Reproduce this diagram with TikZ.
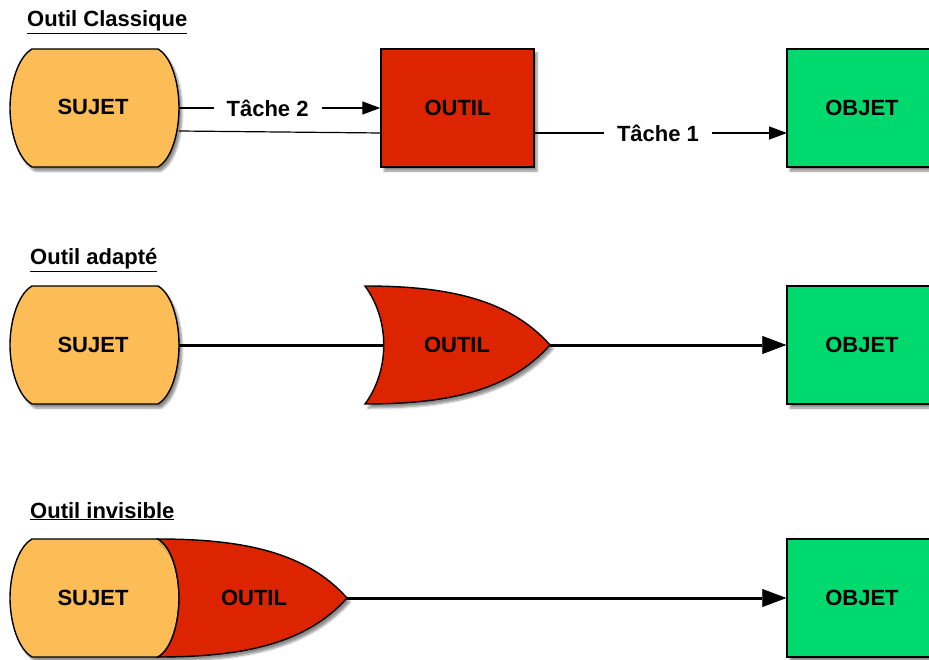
\documentclass[tikz,border=0pt]{standalone}
\usepackage{fontspec}
\setmainfont{Liberation Sans}
\usetikzlibrary{arrows.meta,shadows.blur}
\definecolor{sujetc}{RGB}{253,189,86}
\definecolor{outilc}{RGB}{221,36,0}
\definecolor{objetc}{RGB}{0,217,110}
\begin{document}
\begin{tikzpicture}[x=1pt,y=-1pt,
  txt/.style={font=\fontsize{22}{26}\selectfont\bfseries},
  shad/.style={blur shadow={shadow xshift=3pt,shadow yshift=-4pt,shadow blur steps=6,shadow opacity=45}},
  shapeline/.style={draw=black,line width=1.4pt},
  sujetshape/.style={shapeline,fill=sujetc,shad},
  outilshape/.style={shapeline,fill=outilc,shad},
  outilbox/.style={outilshape,minimum width=153pt,minimum height=118pt,inner sep=0pt,txt},
  objetbox/.style={shapeline,fill=objetc,shad,minimum width=150pt,minimum height=118pt,inner sep=0pt,txt},
  thinline/.style={line width=1.2pt},
  thickline/.style={line width=3pt},
  thinarrow/.style={thinline,-{Triangle[length=18pt,width=13pt,fill=black]}},
  thickarrow/.style={thickline,-{Triangle[length=24pt,width=18pt,fill=black,line width=0.5pt]}},
  title/.style={txt,anchor=base west,inner sep=0pt},
  tlabel/.style={txt,fill=white,inner xsep=13pt,inner ysep=2pt},
  sujetpic/.pic={
    \path[sujetshape] (22,0) -- (148,0) .. controls (162,8) and (169,35) .. (169,59)
      .. controls (169,83) and (162,110) .. (148,118) -- (22,118)
      .. controls (8,110) and (0,83) .. (0,59) .. controls (0,35) and (8,8) .. (22,0) -- cycle;
  }]
\useasboundingbox (0,0) rectangle (929,660);
\clip (0,0) rectangle (929,660);

% ---------- Outil Classique ----------
\node[title] (t1) at (27,27) {\underline{Outil Classique}};
\pic at (10,49) {sujetpic};
\node[txt] (s1) at (93,107) {SUJET};
\coordinate (s1a) at (179,108);
\coordinate (s1b) at (179,131);
\node[outilbox] (o1) at (457.5,108) {OUTIL};
\node[objetbox] (b1) at (862,108) {OBJET};
\coordinate (o1b) at (381,133);
\coordinate (o1c) at (534,133);
\coordinate (b1c) at (787,133);
\draw[thinarrow] (s1a) -- node[tlabel,pos=0.44] {Tâche 2} (o1.west);
\draw[thinline] (s1b) -- (o1b);
\draw[thinarrow] (o1c) -- node[tlabel,pos=0.49] {Tâche 1} (b1c);

% ---------- Outil adapté ----------
\node[title] (t2) at (30,265) {\underline{Outil adapté}};
\pic at (10,286) {sujetpic};
\node[txt] (s2) at (93,345) {SUJET};
\coordinate (s2e) at (179,345);
\path[outilshape] (365,286) .. controls (450,286) and (510,300) .. (550,345)
  .. controls (510,390) and (450,404) .. (365,404)
  .. controls (390,370) and (390,320) .. (365,286) -- cycle;
\node[txt] (o2) at (457,345) {OUTIL};
\coordinate (o2back) at (383,345);
\coordinate (o2tip) at (550,345);
\node[objetbox] (b2) at (862,345) {OBJET};
\draw[thickline] (s2e) -- (o2back);
\draw[thickarrow] (o2tip) -- (b2.west);

% ---------- Outil invisible ----------
\node[title] (t3) at (30,518) {\underline{Outil invisible}};
\pic at (10,539) {sujetpic};
\node[txt] (s3) at (93,598) {SUJET};
\path[outilshape] (158,539) .. controls (245,539) and (307,553) .. (347,598)
  .. controls (307,643) and (245,657) .. (158,657)
  .. controls (172,649) and (179,622) .. (179,598)
  .. controls (179,574) and (172,547) .. (158,539) -- cycle;
\node[txt] (o3) at (254,598) {OUTIL};
\coordinate (o3tip) at (347,598);
\node[objetbox] (b3) at (862,598) {OBJET};
\draw[thickarrow] (o3tip) -- (b3.west);
\end{tikzpicture}
\end{document}
